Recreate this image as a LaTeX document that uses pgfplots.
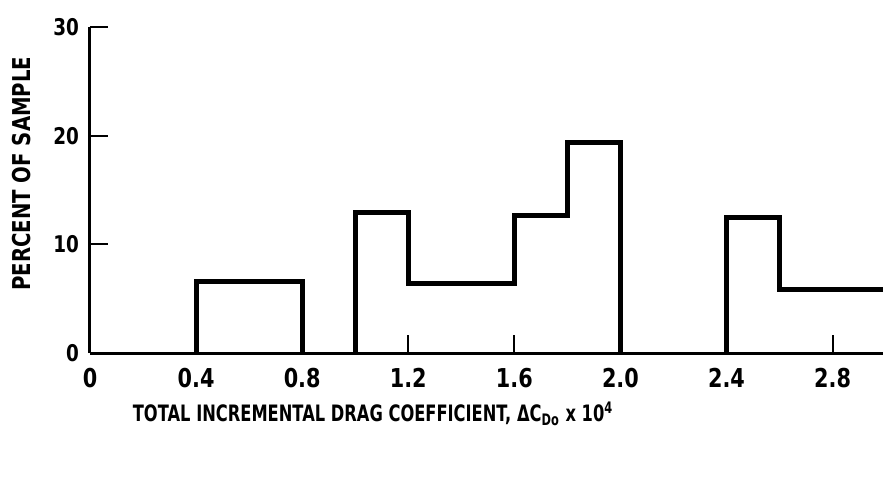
\documentclass[border=0pt]{standalone}
\usepackage{pgfplots}
\pgfplotsset{compat=1.18}
\usepackage{fontspec}
\setmainfont[FakeStretch=0.8]{DejaVu Sans}
\newfontfamily\xlfont[FakeStretch=0.72]{DejaVu Sans}
\begin{document}
\begin{tikzpicture}
\begin{axis}[
  scale only axis,
  width=396.5pt, height=163pt,
  xmin=0, xmax=2.99, ymin=0, ymax=30,
  axis x line*=bottom, axis y line*=left,
  axis line style={line width=1.5pt, -},
  xtick={0,0.4,0.8,1.2,1.6,2.0,2.4,2.8},
  xticklabels={0,0.4,0.8,1.2,1.6,2.0,2.4,2.8},
  ytick={0,10,20,30},
  yticklabels={0,10,20,30},
  tick align=inside,
  major tick length=9pt,
  tick style={line width=1pt, black},
  /pgf/number format/assume math mode=true,
  x tick label style={font=\bfseries\fontsize{13}{15}\selectfont, yshift=-4pt},
  y tick label style={font=\bfseries\fontsize{11.5}{13}\selectfont, xshift=-2pt},
  xlabel={TOTAL INCREMENTAL DRAG COEFFICIENT, ΔC\textsubscript{Do} x 10\textsuperscript{4}},
  xlabel style={font=\xlfont\bfseries\fontsize{11.3}{13}\selectfont, at={(axis description cs:0.357,-0.21)}, anchor=base},
  ylabel={PERCENT OF SAMPLE},
  ylabel style={font=\bfseries\fontsize{12.3}{14}\selectfont, at={(axis description cs:-0.086,0.55)}, anchor=center},
  clip=true,
]
\addplot[black, line width=2.5pt, line join=miter] coordinates {(0.4,0) (0.4,6.6) (0.8,6.6) (0.8,0)};
\addplot[black, line width=2.5pt, line join=miter] coordinates {(1.0,0) (1.0,12.9) (1.2,12.9) (1.2,6.4) (1.6,6.4) (1.6,12.7) (1.8,12.7) (1.8,19.4) (2.0,19.4) (2.0,0)};
\addplot[black, line width=2.5pt, line join=miter] coordinates {(2.4,0) (2.4,12.5) (2.6,12.5) (2.6,5.8) (3.0,5.8)};
\end{axis}
\pgfresetboundingbox
\path (-45pt,-63pt) rectangle (396.5pt,176.5pt);
\end{tikzpicture}
\end{document}
